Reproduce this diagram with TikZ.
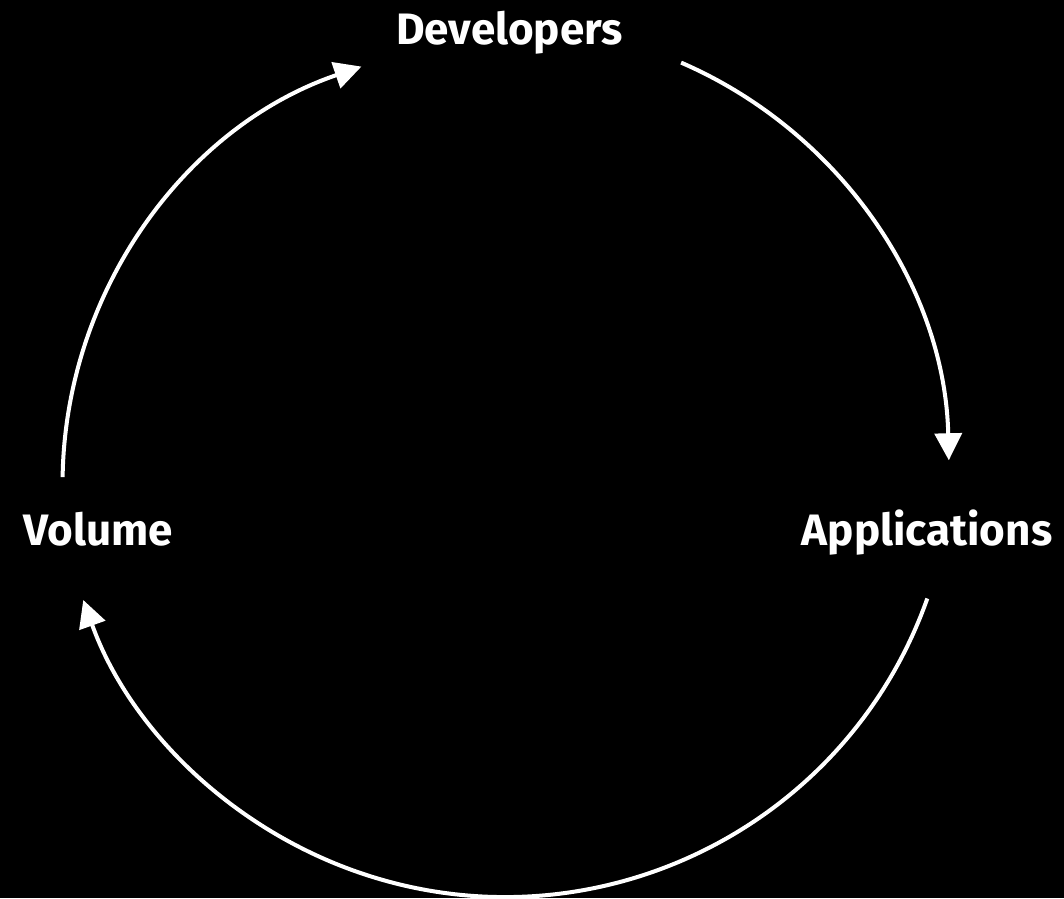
\documentclass[tikz,border=0pt]{standalone}
\usepackage{fontspec}
\setmainfont{Fira Sans}
\usetikzlibrary{arrows.meta}
\begin{document}
\begin{tikzpicture}[x=1pt,y=-1pt,
  lbl/.style={text=white,font=\bfseries\fontsize{44}{44}\selectfont,inner sep=0pt,anchor=base},
  cyc/.style={draw=white,line width=4pt,-{Triangle[length=27pt,width=27pt]}}]
\fill[black] (0,0) rectangle (1064,898);
\useasboundingbox (0,0) rectangle (1064,898);
\node[lbl] (dev) at (509.5,44) {Developers};
\node[lbl] (app) at (927,545) {Applications};
\node[lbl] (vol) at (98.5,545) {Volume};
\coordinate (s1) at (62.6,477.1);
\coordinate (s2) at (681.1,62.6);
\coordinate (s3) at (927.3,598.5);
\draw[cyc] (s1) arc[start angle=180.9,end angle=251.2,radius=441];
\draw[cyc] (s2) arc[start angle=293.4,end angle=358.7,radius=444.3];
\draw[cyc] (s3) arc[start angle=19.5,end angle=160.3,radius=448];
\end{tikzpicture}
\end{document}
